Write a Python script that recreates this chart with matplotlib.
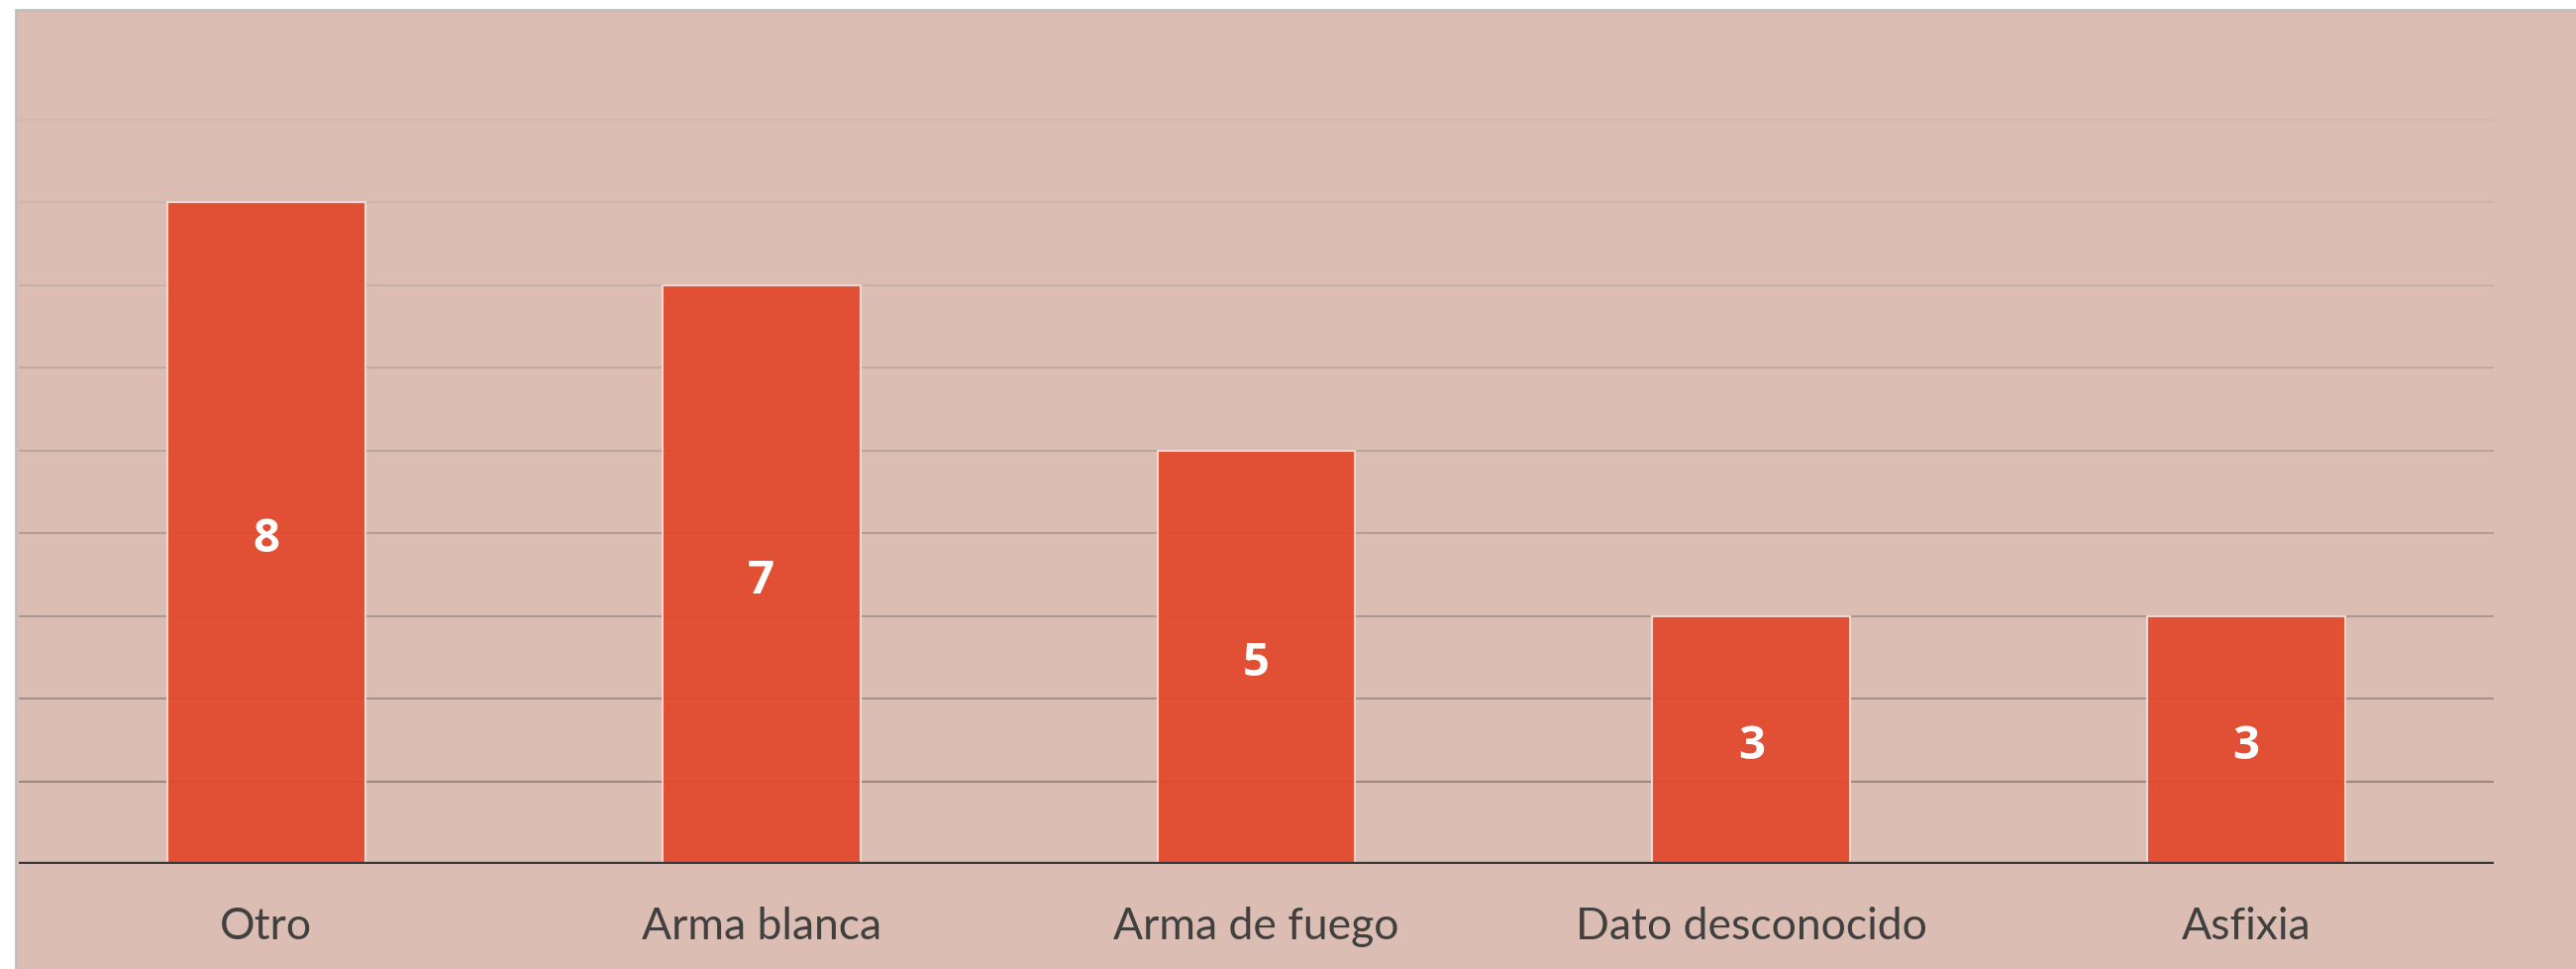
import matplotlib.pyplot as plt
from matplotlib.patches import Rectangle
import numpy as np

# datos del gráfico
categorias = ['Otro', 'Arma blanca', 'Arma de fuego', 'Dato desconocido', 'Asfixia']
valores = [8, 7, 5, 3, 3]
ticks_y = [1, 2, 3, 4, 5, 6, 7, 8, 9]

FONDO = '#dbbdb3'
BARRA = '#e2482a'
TEXTO = '#404040'

W, H = 2601, 979
fig = plt.figure(figsize=(W / 100, H / 100), dpi=100)
fig.patch.set_facecolor('white')

# marco del área del gráfico
fig.patches.append(Rectangle((16 / W, -0.1), 1.2, (H - 11) / H + 0.1,
                             transform=fig.transFigure, facecolor=FONDO,
                             edgecolor='#bfbfbf', linewidth=2, zorder=-5))

y_axis = 873
px_unit = 83.5
ymax = 9.6
ax = fig.add_axes([19 / W, (H - y_axis) / H, 2499 / W, ymax * px_unit / H])
ax.set_facecolor('none')

x = np.arange(len(categorias))
ax.set_xlim(-0.5, len(categorias) - 0.5)
ax.set_ylim(0, ymax)

# líneas de cuadrícula, más claras arriba
c_low = np.array([0x9a, 0x88, 0x82]) / 255
c_high = np.array([0xd2, 0xba, 0xb2]) / 255
for i, t in enumerate(ticks_y):
    f = (i / (len(ticks_y) - 1)) ** 0.8
    col = c_low * (1 - f) + c_high * f
    ax.axhline(t, color=col, linewidth=1.5, zorder=1)

bars = ax.bar(x, valores, width=0.4, color=BARRA, alpha=0.93,
              edgecolor='#f4ddd6', linewidth=1.5, zorder=2)

for b, v in zip(bars, valores):
    ax.text(b.get_x() + b.get_width() / 2, v / 2, str(v), ha='center',
            va='center_baseline', color='white', fontsize=34, fontweight='bold',
            family='Open Sans', zorder=4)

ax.axhline(0, color='#3b3b3b', linewidth=3.2, zorder=3)

for s in ax.spines.values():
    s.set_visible(False)
ax.set_yticks([])
ax.set_xticks(x)
ax.set_xticklabels(categorias, fontsize=32, color=TEXTO, family='Lato')
ax.tick_params(axis='x', length=0, pad=30)

fig.savefig('out.png', dpi=100, facecolor='white')
